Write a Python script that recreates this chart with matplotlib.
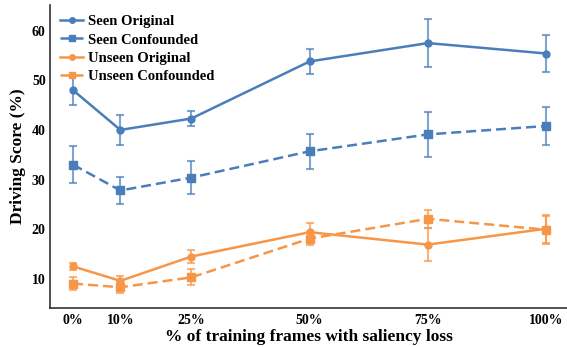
import matplotlib
matplotlib.use("Agg")
import matplotlib.pyplot as plt

x = [0, 10, 25, 50, 75, 100]
xticklabels = ["0%", "10%", "25%", "50%", "75%", "100%"]

seen_orig = [48.0, 40.0, 42.3, 53.8, 57.5, 55.4]
seen_orig_err = [2.9, 3.1, 1.5, 2.5, 4.8, 3.8]
seen_conf = [33.0, 27.8, 30.4, 35.7, 39.1, 40.8]
seen_conf_err = [3.7, 2.8, 3.4, 3.5, 4.6, 3.9]
unseen_orig = [12.5, 9.6, 14.5, 19.4, 16.9, 20.1]
unseen_orig_err = [0.75, 0.9, 1.3, 1.8, 3.4, 2.8]
unseen_conf = [9.05, 8.3, 10.3, 18.1, 22.1, 19.9]
unseen_conf_err = [1.25, 1.2, 1.6, 1.3, 1.8, 2.8]

blue = "#4a7ebb"
orange = "#f79646"

plt.rcParams['font.family'] = ['Liberation Serif', 'DejaVu Serif']
plt.rcParams['font.weight'] = 'bold'

fig = plt.figure(figsize=(5.67, 3.47), dpi=100)
ax = fig.add_axes([0.088, 0.112, 0.912, 0.874])

series = [
    (seen_orig, seen_orig_err, blue, '-', 'o', 5, "Seen Original"),
    (seen_conf, seen_conf_err, blue, (0, (4, 2)), 's', 5.5, "Seen Confounded"),
    (unseen_orig, unseen_orig_err, orange, '-', 'o', 5, "Unseen Original"),
    (unseen_conf, unseen_conf_err, orange, (0, (4, 2)), 's', 5.5, "Unseen Confounded"),
]
for y, err, color, ls, marker, ms, label in series:
    ax.plot(x, y, color=color, lw=1.8, ls=ls, marker=marker, ms=ms, label=label, zorder=3)
    ax.errorbar(x, y, yerr=err, fmt='none', ecolor=color, alpha=0.7,
                elinewidth=1.5, capsize=3, capthick=1.5, zorder=2)

ax.set_xlim(-4.9, 104.4)
ax.set_ylim(4.1, 65.2)
ax.set_xticks(x)
ax.set_xticklabels(xticklabels)
ax.set_yticks([10, 20, 30, 40, 50, 60])
ax.tick_params(axis='x', length=0, labelsize=10, pad=4)
ax.tick_params(axis='y', length=0, labelsize=10, pad=3)
for lab in ax.get_xticklabels() + ax.get_yticklabels():
    lab.set_fontweight('bold')
for s in ['top', 'right']:
    ax.spines[s].set_visible(False)
for s in ['left', 'bottom']:
    ax.spines[s].set_color('#333333')
    ax.spines[s].set_linewidth(1.2)

ax.set_xlabel("% of training frames with saliency loss", fontsize=12.5, fontweight='bold', labelpad=2)
ax.set_ylabel("Driving Score (%)", fontsize=12.5, fontweight='bold', labelpad=4)

leg = ax.legend(loc='upper left', frameon=False, handlelength=1.6, markerscale=0.8,
                handletextpad=0.3, labelspacing=0.35, borderaxespad=0.3,
                prop={'weight': 'bold', 'size': 10.5})

fig.savefig("out.png", dpi=100)
